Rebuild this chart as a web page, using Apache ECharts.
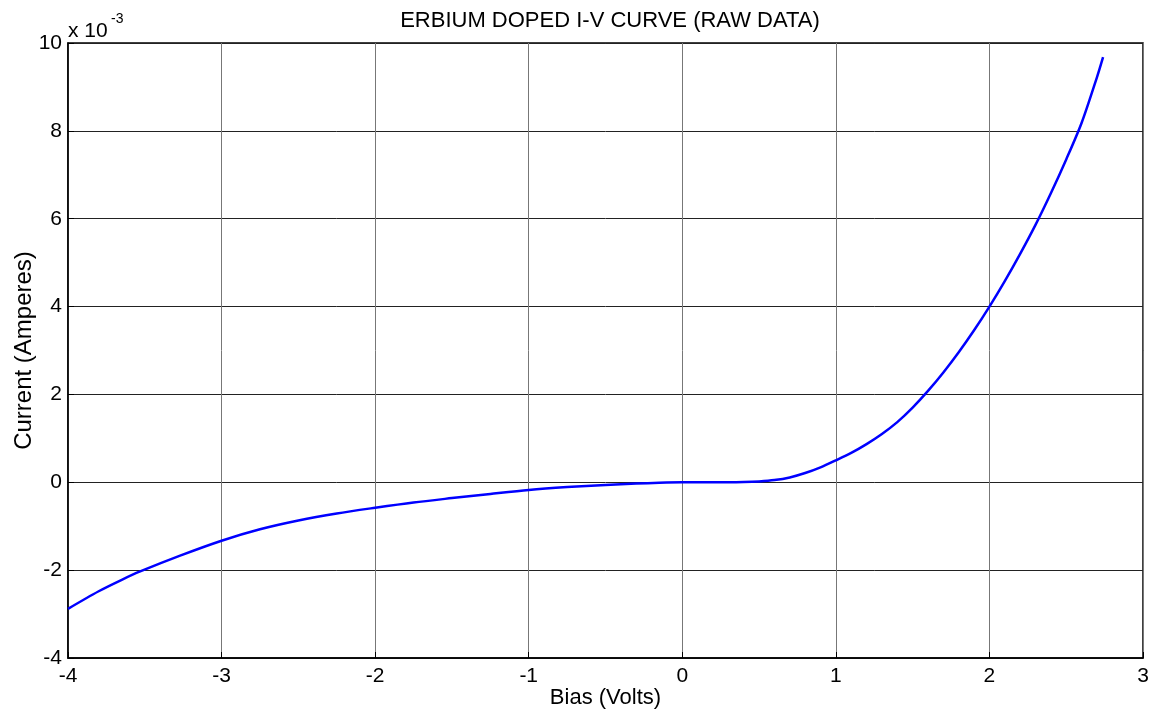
<!DOCTYPE html>
<html>
<head>
<meta charset="utf-8">
<script src="https://cdn.jsdelivr.net/npm/echarts@6/dist/echarts.min.js"></script>
<style>
  html, body { margin: 0; padding: 0; background: #fff; }
  #chart { width: 1156px; height: 719px; }
</style>
</head>
<body>
<div id="chart"></div>
<script>
// Bias voltage (V) and measured current (units of 1e-3 A)
const biasVolts = [-4, -3.8, -3.65, -3.53, -3.27, -3, -2.75, -2.5, -2.25, -2, -1.75, -1.5, -1.25, -1, -0.75, -0.5, -0.3, -0.15, 0, 0.1, 0.3, 0.4, 0.5, 0.6, 0.7, 0.8, 0.9, 1.0, 1.1, 1.2, 1.3, 1.4, 1.5, 1.6, 1.7, 1.8, 1.9, 2.0, 2.1, 2.2, 2.3, 2.4, 2.5, 2.6, 2.7, 2.74];
const currentMilliAmps = [-2.88, -2.48, -2.22, -2.03, -1.67, -1.33, -1.07, -0.87, -0.71, -0.58, -0.46, -0.36, -0.265, -0.175, -0.11, -0.06, -0.03, -0.01, 0, 0, 0.0, 0.005, 0.02, 0.05, 0.11, 0.21, 0.34, 0.5, 0.67, 0.87, 1.1, 1.37, 1.7, 2.08, 2.5, 2.96, 3.46, 4.0, 4.58, 5.2, 5.86, 6.58, 7.35, 8.18, 9.22, 9.68];
const xTicks = { min: -4, max: 3, step: 1 };
const yTicks = { min: -4, max: 10, step: 2 };

const font = '"Liberation Sans", Arial, sans-serif';
const chart = echarts.init(document.getElementById('chart'), null, { renderer: 'canvas' });

chart.setOption({
  backgroundColor: '#ffffff',
  animation: false,
  title: {
    text: 'ERBIUM DOPED I-V CURVE (RAW DATA)',
    left: 605, textAlign: 'center', top: 5,
    textStyle: { fontFamily: font, fontSize: 22, fontWeight: 'normal', color: '#000' }
  },
  grid: {
    left: 68, right: 13, top: 43, bottom: 61,
    outerBoundsMode: 'none', containLabel: false,
    show: true, borderColor: '#000', borderWidth: 1.5, backgroundColor: 'transparent'
  },
  xAxis: {
    type: 'value', min: xTicks.min, max: xTicks.max, interval: xTicks.step,
    name: 'Bias (Volts)', nameLocation: 'middle', nameGap: 29, nameMoveOverlap: false,
    nameTextStyle: { fontFamily: font, fontSize: 22, color: '#000' },
    axisLine: { show: true, onZero: false, lineStyle: { color: '#000', width: 1.5 } },
    axisTick: { show: true, inside: true, length: 6, lineStyle: { color: '#000' } },
    axisLabel: { fontFamily: font, fontSize: 21, color: '#000', margin: 8 },
    splitLine: { show: true, lineStyle: { color: '#777', width: 1 } }
  },
  yAxis: {
    type: 'value', min: yTicks.min, max: yTicks.max, interval: yTicks.step,
    name: 'Current (Amperes)', nameLocation: 'middle', nameGap: 32, nameMoveOverlap: false,
    nameTextStyle: { fontFamily: font, fontSize: 24, color: '#000' },
    axisLine: { show: true, onZero: false, lineStyle: { color: '#000', width: 1.5 } },
    axisTick: { show: true, inside: true, length: 6, lineStyle: { color: '#000' } },
    axisLabel: { fontFamily: font, fontSize: 21, color: '#000', margin: 6 },
    splitLine: { show: true, lineStyle: { color: '#222', width: 1 } }
  },
  graphic: [
    { type: 'text', left: 68, top: 21, style: { text: 'x 10', font: '21px ' + font, fill: '#000' } },
    { type: 'text', left: 111, top: 12, style: { text: '-3', font: '14px ' + font, fill: '#000' } }
  ],
  series: [{
    type: 'line',
    data: biasVolts.map((v, i) => [v, currentMilliAmps[i]]),
    showSymbol: false,
    smooth: 0.3,
    lineStyle: { color: '#0000ff', width: 2.5 },
    z: 5
  }]
});
</script>
</body>
</html>
